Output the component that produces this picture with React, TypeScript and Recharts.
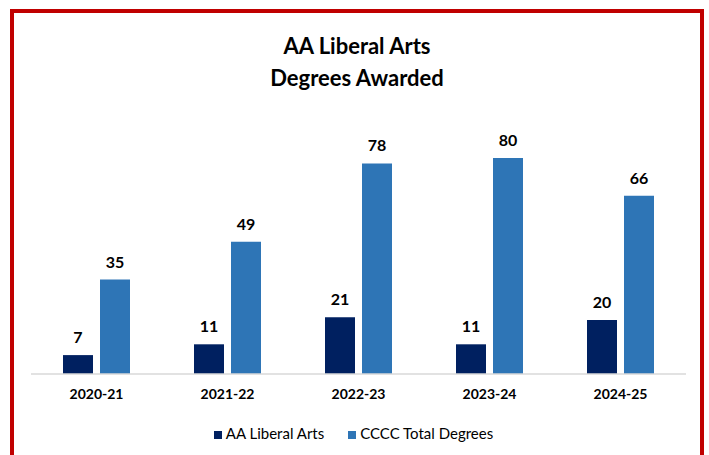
import { BarChart, Bar, XAxis, YAxis, Legend, LabelList } from 'recharts';

const years = ['2020-21', '2021-22', '2022-23', '2023-24', '2024-25'];
const liberalArts = [7, 11, 21, 11, 20];
const totalDegrees = [35, 49, 78, 80, 66];

const chartData = years.map((year, i) => ({
  year,
  liberalArts: liberalArts[i],
  totalDegrees: totalDegrees[i],
}));

const FONT = 'Lato, "Open Sans", sans-serif';

export default function App() {
  return (
    <div
      style={{
        position: 'absolute',
        left: 0,
        top: 0,
        width: 709,
        height: 455,
        overflow: 'hidden',
        background: '#fff',
        fontFamily: FONT,
      }}
    >
      <div
        style={{
          position: 'absolute',
          left: 10,
          top: 9,
          width: 694,
          height: 470,
          border: '4px solid #C00000',
          boxSizing: 'border-box',
        }}
      />
      <div
        style={{
          position: 'absolute',
          left: 10,
          top: 30,
          width: 694,
          textAlign: 'center',
          fontSize: 22,
          fontWeight: 700,
          lineHeight: '32px',
          color: '#000',
        }}
      >
        AA Liberal Arts
        <br />
        Degrees Awarded
      </div>
      <BarChart
        width={709}
        height={455}
        data={chartData}
        margin={{ top: 131, right: 23, bottom: 33, left: 31 }}
        barSize={30}
        barGap={7}
        style={{ position: 'absolute', left: 0, top: 0 }}
      >
        <XAxis
          dataKey="year"
          axisLine={{ stroke: '#d9d9d9', strokeWidth: 1.5 }}
          tickLine={false}
          tickMargin={9}
          height={30}
          tick={{ fill: '#000', fontSize: 14, fontWeight: 700, fontFamily: FONT }}
        />
        <YAxis hide domain={[0, 90]} />
        <Legend
          verticalAlign="bottom"
          iconType="square"
          iconSize={8}
          wrapperStyle={{ fontFamily: FONT, fontSize: 15, bottom: 13 }}
          formatter={(value, _entry, index) => (
            <span style={{ color: '#000', marginRight: index === 0 ? 14 : 0 }}>{value}</span>
          )}
        />
        <Bar dataKey="liberalArts" name="AA Liberal Arts" fill="#002060" isAnimationActive={false}>
          <LabelList
            dataKey="liberalArts"
            position="top"
            offset={12}
            style={{ fill: '#000', fontSize: 16, fontWeight: 700, fontFamily: FONT }}
          />
        </Bar>
        <Bar dataKey="totalDegrees" name="CCCC Total Degrees" fill="#2E75B6" isAnimationActive={false}>
          <LabelList
            dataKey="totalDegrees"
            position="top"
            offset={12}
            style={{ fill: '#000', fontSize: 16, fontWeight: 700, fontFamily: FONT }}
          />
        </Bar>
      </BarChart>
    </div>
  );
}
